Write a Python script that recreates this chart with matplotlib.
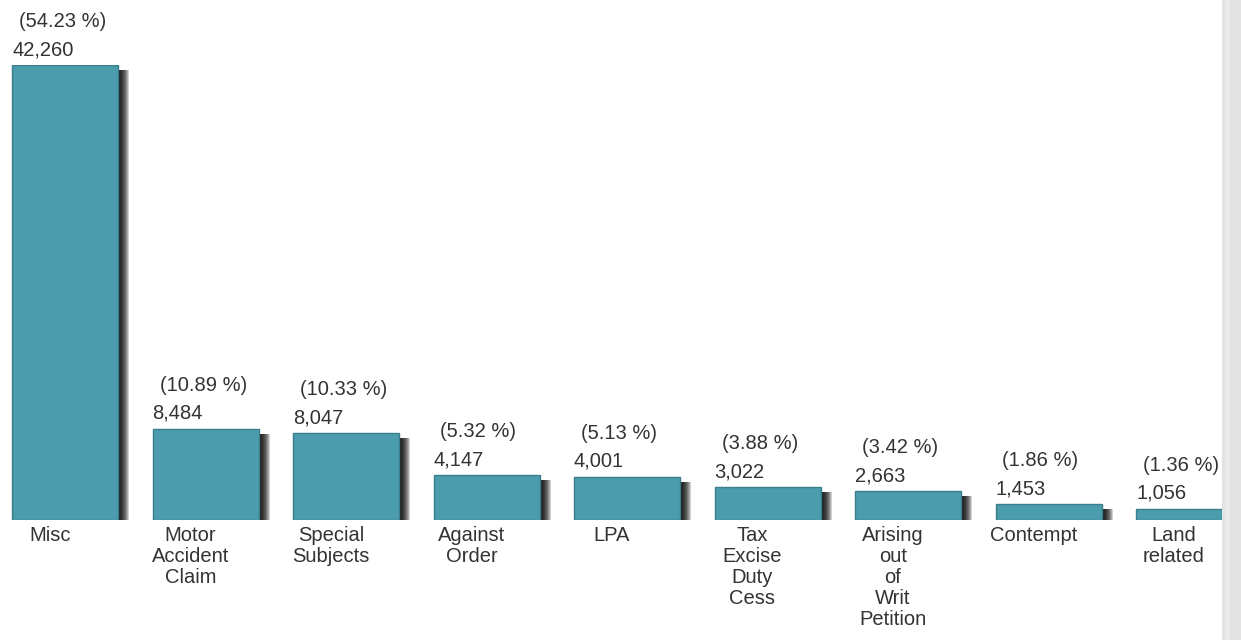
import matplotlib.pyplot as plt
from matplotlib.patches import Rectangle

categories = ['Misc', 'Motor\nAccident\nClaim', 'Special\nSubjects', 'Against\nOrder', 'LPA',
              'Tax\nExcise\nDuty\nCess', 'Arising\nout\nof\nWrit\nPetition', 'Contempt', 'Land\nrelated']
values = [42260, 8484, 8047, 4147, 4001, 3022, 2663, 1453, 1056]
percents = ['54.23', '10.89', '10.33', '5.32', '5.13', '3.88', '3.42', '1.86', '1.36']

W, H = 1241, 640
slot = 140.5          # px between bar centres
first = 65            # px, centre of first bar
base = 520            # px from top, baseline
top = 65              # px from top, top of tallest bar
bar_w = 106 / slot

fig = plt.figure(figsize=(W / 100, H / 100), dpi=100)
ax = fig.add_axes([0, (H - base) / H, 1, (base - top) / H])
ax.set_xlim(-first / slot, (W - first) / slot)
ax.set_ylim(0, max(values))
ax.axis('off')

x = list(range(len(values)))
px_y = max(values) / (base - top)   # data units per pixel vertically

# soft drop shadow
for k in range(1, 12):
    ax.bar([i + k / slot for i in x], [v - 5 * px_y for v in values], width=bar_w,
           color='black', alpha=0.18, linewidth=0, zorder=1)

ax.bar(x, values, width=bar_w, color='#4b9cad', edgecolor='#3b7f8c', linewidth=1, zorder=2)

txt = dict(fontsize=14.5, color='#333333', family=['Liberation Sans', 'DejaVu Sans'])
for i, v in enumerate(values):
    left = i - bar_w / 2
    ax.annotate(f'{v:,}', (left, v), xytext=(0, 10), textcoords='offset pixels',
                ha='left', va='baseline', annotation_clip=False, **txt)
    ax.annotate(f'({percents[i]} %)', (left, v), xytext=(7, 38), textcoords='offset pixels',
                ha='left', va='baseline', annotation_clip=False, **txt)
    ax.annotate(categories[i], (i, 0), xytext=(-15, -6), textcoords='offset pixels',
                ha='center', va='top', multialignment='center', linespacing=1.13,
                annotation_clip=False, **txt)

# scrollbar strip on the right
fig.add_artist(Rectangle((1222 / W, 0), 19 / W, 1, transform=fig.transFigure,
                         facecolor='#e3e3e3', edgecolor='none', zorder=10))
fig.add_artist(Rectangle((1225 / W, 0), 5 / W, 1, transform=fig.transFigure,
                         facecolor='#ebebeb', edgecolor='none', zorder=11))

fig.savefig('out.png', dpi=100)
